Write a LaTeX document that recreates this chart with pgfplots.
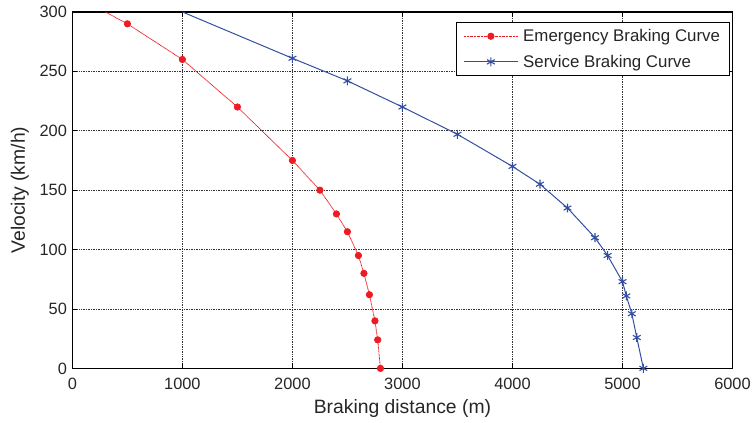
\documentclass[border=0pt]{standalone}
\usepackage{pgfplots}
\pgfplotsset{compat=1.18}
\usepackage{fontspec}
\setmainfont{Liberation Sans}
\definecolor{ered}{RGB}{237,28,36}
\definecolor{sblue}{RGB}{51,77,161}
\begin{document}
\begin{tikzpicture}
\path (0,0) rectangle (754bp,424bp);
\begin{axis}[
  at={(72.7bp,54bp)}, anchor=south west,
  width=663bp, height=358bp, scale only axis,
  xmin=0, xmax=6000, ymin=0, ymax=300,
  xtick={0,1000,...,6000}, ytick={0,50,...,300},
  /pgf/number format/assume math mode=true,
  /pgf/number format/set thousands separator={},
  scaled x ticks=false,
  tick align=inside,
  major tick length=5bp,
  tick style={black, line width=0.6bp},
  grid=major,
  major grid style={black!80, line width=0.7bp, densely dotted},
  axis line style={black, line width=1.4bp},
  ticklabel style={font=\fontsize{16.5}{19}\selectfont, text=black!85},
  xticklabel style={yshift=-6bp},
  yticklabel style={xshift=-2bp},
  xlabel={Braking distance (m)},
  ylabel={Velocity (km/h)},
  label style={font=\fontsize{19.5}{22}\selectfont, text=black!85},
  xlabel style={at={(axis description cs:0.5,-0.1117)}, anchor=center},
  ylabel style={at={(axis description cs:-0.0795,0.5)}, anchor=center},
  legend style={at={(axis description cs:1,1)}, anchor=north east,
    xshift=-3bp, yshift=-10bp, draw=black, line width=1bp,
    font=\fontsize{17}{20}\selectfont, text=black!85,
    inner xsep=7bp, inner ysep=5bp, row sep=8bp,
    /tikz/every odd column/.append style={column sep=3bp}},
  legend cell align=left,
  legend image code/.code={\draw[#1, mark indices={2}] plot coordinates {(0bp,0bp) (27bp,0bp) (54bp,0bp)};},
]
\addplot[ered, line width=0.8bp, dash pattern=on 0.9bp off 0.5bp, mark=*, mark size=3.2bp,
  mark options={solid, fill=ered, draw=ered}, mark indices={2,...,16}]
  coordinates {
  (300,300) (500,290) (1000,260) (1500,220) (2000,175) (2250,150)
  (2400,130) (2500,115) (2600,95) (2650,80) (2700,62) (2750,40)
  (2775,24) (2800,0)
  };
\addlegendentry{Emergency Braking Curve}
\addplot[sblue, line width=1bp, mark=asterisk, mark size=4.5bp,
  mark options={solid, line width=1.1bp}, mark indices={2,...,17}]
  coordinates {
  (1000,300) (2000,261) (2500,242) (3000,220) (3500,197) (4000,170)
  (4250,155) (4500,135) (4750,110) (4865,95) (5000,73) (5035,61)
  (5085,46) (5130,26) (5190,0)
  };
\addlegendentry{Service Braking Curve}
\end{axis}
\end{tikzpicture}
\end{document}
